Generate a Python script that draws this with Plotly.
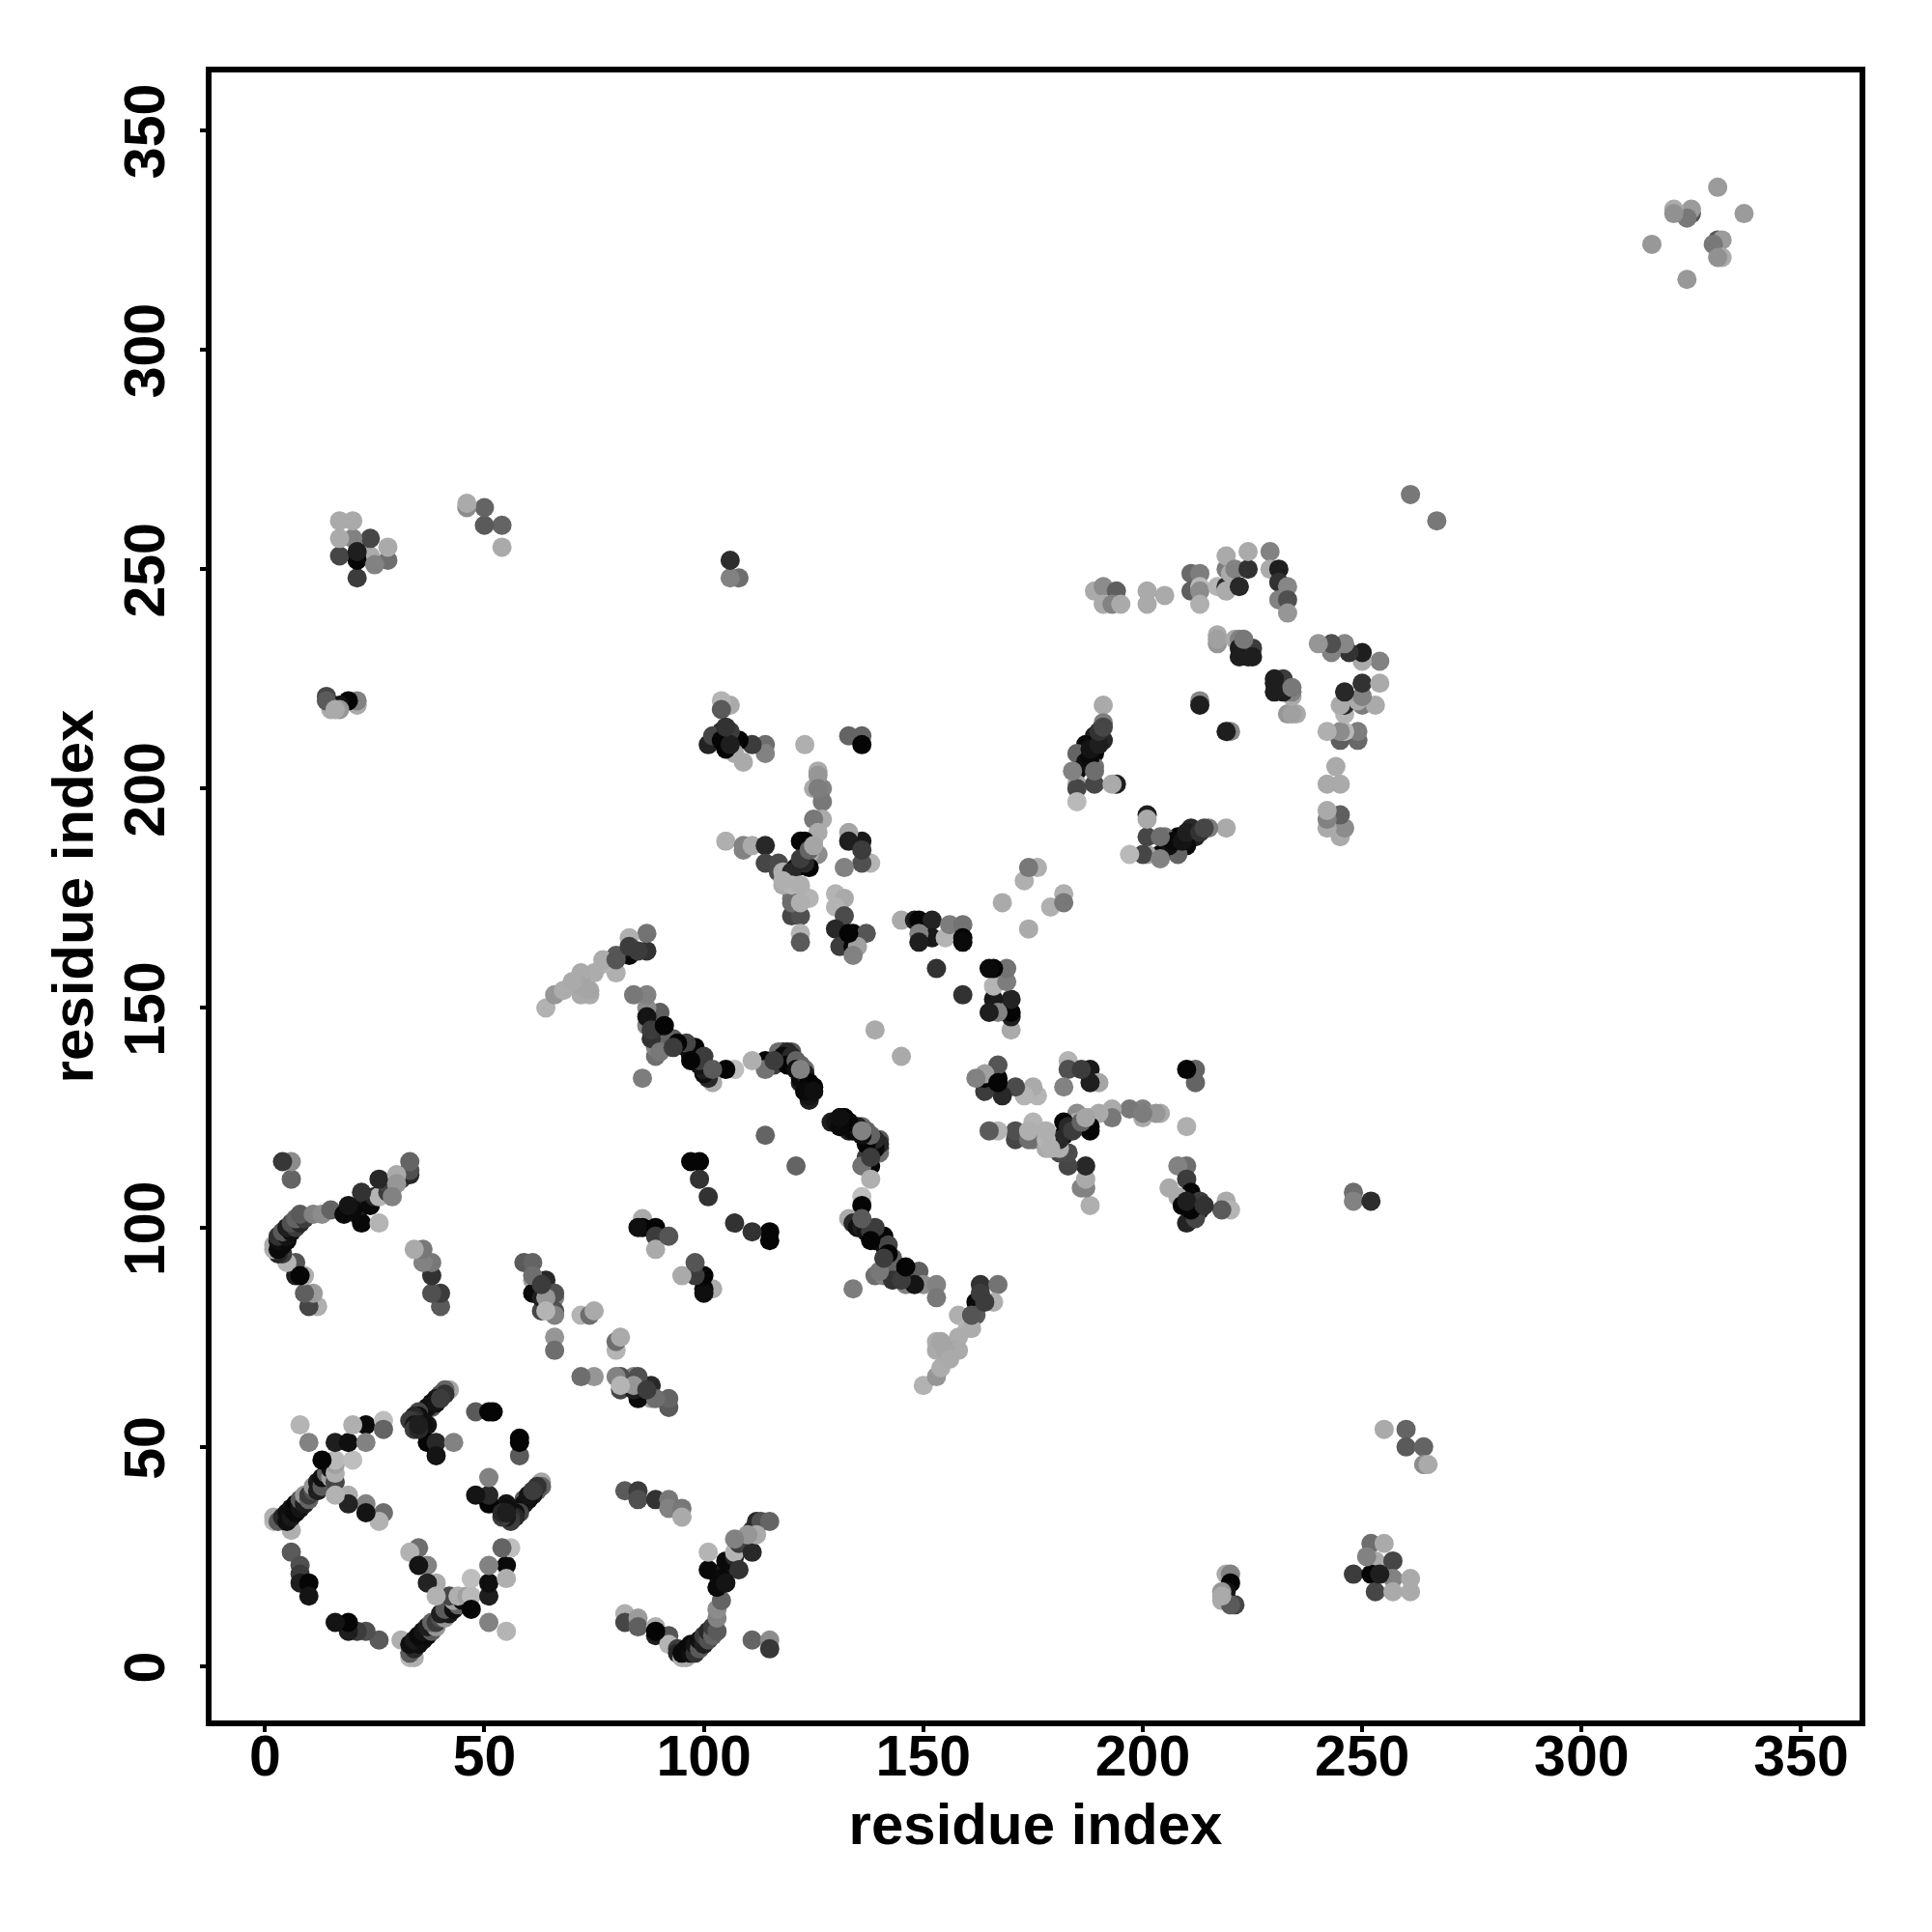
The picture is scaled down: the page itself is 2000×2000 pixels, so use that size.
import plotly.graph_objects as go

residue_i = [
 31,33,34,33,34,33,35,34,36,35,
 37,36,38,37,39,38,39,40,41,40,
 42,41,43,44,43,45,42,44,46,47,
 47,47,51,51,55,56,54,55,51,51,
 55,35,33,37,35,39,37,39,26,23,
 21,19,19,16,63,63,62,61,60,59,
 59,58,58,57,57,56,56,55,55,55,
 62,60,61,51,51,48,51,58,58,58,
 54,54,55,82,82,85,85,89,89,92,
 92,94,94,95,96,95,96,97,97,98,
 98,99,99,100,100,101,101,102,102,103,
 103,103,104,103,103,101,101,105,105,107,
 107,108,109,110,111,111,112,112,113,115,
 108,104,105,111,115,115,112,110,89,107,
 82,85,85,89,92,92,95,95,92,92,
 88,88,84,85,85,81,81,75,72,80,
 80,80,81,84,89,85,84,81,87,102,
 100,100,100,98,95,98,115,115,111,107,
 134,136,136,133,134,135,136,137,138,139,
 139,140,141,141,142,143,139,141,143,144,
 146,149,150,153,153,146,148,142,143,145,
 163,167,166,162,162,158,160,158,153,150,
 153,154,153,157,158,161,161,164,163,155,
 154,156,146,140,141,139,136,138,129,131,
 133,131,132,133,135,136,137,138,140,139,
 138,140,137,138,136,138,140,140,139,139,
 137,138,137,134,135,133,132,130,131,136,
 138,131,136,188,187,186,187,187,183,183,
 181,181,177,175,175,171,171,167,165,204,
 200,200,197,193,193,190,188,188,185,185,
 182,182,178,210,203,200,188,181,174,174,
 178,178,179,183,184,186,187,176,175,173,
 171,168,167,167,164,164,164,162,167,183,
 183,182,188,190,188,186,212,212,210,210,
 208,210,206,211,213,213,210,212,219,220,
 218,208,209,211,210,214,248,248,252,170,
 170,170,170,166,167,165,166,169,169,166,
 165,159,145,121,174,179,182,182,219,215,
 211,212,210,208,208,204,205,201,200,197,
 201,201,201,206,207,209,210,213,214,204,
 204,245,246,245,242,242,242,245,242,244,
 249,249,245,246,245,242,246,246,245,250,
 253,249,250,246,250,254,254,250,250,247,
 243,246,243,240,235,233,234,234,234,232,
 232,230,232,230,230,234,220,219,337,331,332,
 330,332,331,324,267,221,219,220,220,219,
 218,218,220,218,248,252,255,253,257,252,
 257,261,253,257,261,254,251,255,260,260,
 264,264,265,
]
residue_j = [
 6,2,2,3,4,5,5,6,6,7,
 7,8,8,9,9,10,10,11,11,12,
 12,13,13,14,15,15,16,16,16,16,
 13,20,16,19,23,27,27,20,23,10,
 8,27,26,23,23,19,19,16,6,8,
 8,8,10,10,42,41,40,39,38,38,
 37,36,35,35,34,34,33,34,37,36,
 41,39,40,37,39,39,43,48,51,52,
 34,35,35,12,10,11,9,9,7,7,
 5,4,3,2,2,3,4,3,5,3,
 5,4,6,5,7,6,8,7,9,8,
 11,13,15,18,21,22,26,22,24,25,
 26,28,29,28,26,31,32,33,33,33,
 22,20,19,6,6,4,30,30,8,29,
 40,40,38,38,38,36,36,34,59,61,
 64,61,66,61,64,63,66,66,66,66,
 72,74,75,63,61,66,64,64,63,86,
 86,85,89,89,89,92,97,99,99,101,
 86,107,105,102,101,100,100,99,99,98,
 97,97,96,98,96,93,89,89,90,91,
 90,90,87,87,84,87,87,94,88,88,
 87,87,83,83,80,80,77,75,74,64,
 66,68,72,72,72,77,80,83,85,72,
 74,70,91,90,93,100,102,97,124,125,
 122,123,125,124,122,123,122,121,120,118,
 119,118,116,114,114,111,117,119,118,120,
 119,121,122,122,123,124,125,124,123,121,
 116,125,122,105,109,109,111,114,114,117,
 117,118,122,124,120,120,122,122,122,126,
 127,125,127,127,125,126,125,123,126,124,
 121,124,118,123,126,126,122,120,120,122,
 120,122,118,123,122,124,125,130,132,130,
 132,130,134,137,131,134,135,134,133,138,
 136,132,136,133,133,136,136,133,136,114,
 114,111,109,108,106,104,101,102,106,104,
 104,107,105,104,106,105,108,106,106,145,
 148,149,152,152,149,149,155,156,159,159,
 159,153,139,114,168,173,176,174,191,191,
 191,189,187,185,189,185,189,185,185,185,
 189,194,193,187,188,188,190,190,191,184,
 189,189,191,194,191,193,195,201,201,205,
 211,213,211,213,213,213,217,219,219,219,
 219,220,221,222,224,224,229,229,231,231,
 231,233,233,233,217,217,217,221,222,222,
 224,224,225,222,225,223,213,213,331,325,325,
 324,321,321,316,261,14,21,21,19,17,
 15,17,14,16,21,28,28,24,24,21,
 20,20,17,17,17,21,25,54,54,50,
 50,46,46,
]
grey_level = [
 175,185,175,90,40,15,15,25,15,10,
 10,20,90,30,150,100,60,80,150,30,
 25,90,15,100,160,15,70,175,160,185,
 5,190,30,15,10,190,100,175,130,130,
 180,110,178,130,20,172,35,178,90,80,
 60,30,5,20,165,100,90,25,15,90,
 20,15,70,15,40,50,60,25,20,15,
 50,20,60,5,40,20,130,90,5,5,
 60,40,30,175,70,155,95,175,30,85,
 180,60,40,175,170,10,10,15,10,50,
 20,90,15,30,60,80,40,100,60,90,
 130,140,100,10,15,8,180,30,10,40,
 180,60,20,70,40,60,30,40,80,100,
 50,10,20,100,140,55,170,150,5,130,
 90,60,80,50,120,130,120,170,90,100,
 40,160,130,10,10,70,80,150,110,130,
 180,110,170,30,110,80,150,180,60,170,
 5,15,5,60,170,85,5,5,50,50,
 125,190,5,170,40,15,30,20,60,70,
 15,50,15,5,70,95,110,130,70,100,
 5,95,140,130,120,130,20,5,50,60,
 50,115,175,10,90,175,180,172,172,178,
 150,172,170,165,170,172,85,60,60,165,
 165,170,5,120,60,60,90,5,30,5,
 30,15,20,60,160,110,100,120,90,30,
 5,50,60,5,115,175,110,40,10,40,
 5,100,100,10,30,5,5,20,10,15,
 60,15,130,175,130,130,170,40,70,75,
 75,175,180,180,120,70,80,180,90,170,
 130,170,120,170,120,170,170,5,140,170,
 5,5,170,175,150,125,5,40,110,175,
 180,175,175,40,60,100,165,180,170,180,
 75,40,5,85,60,5,160,130,5,180,
 80,130,25,165,30,60,100,100,5,110,
 130,60,170,5,60,40,35,70,170,180,
 90,170,5,5,30,50,110,130,45,170,
 30,5,35,25,130,30,180,125,115,5,
 10,50,170,100,170,175,175,120,170,125,
 40,30,10,100,5,10,120,165,70,185,
 70,30,170,15,10,20,30,50,70,130,
 110,170,140,95,170,130,170,170,170,170,
 105,125,95,185,140,175,180,40,170,125,
 170,170,130,40,50,170,130,170,30,50,
 130,135,80,150,170,150,160,170,130,30,
 40,30,60,30,30,120,135,30,155,85,155,
 120,172,145,152,120,70,170,130,5,20,
 170,150,90,170,60,110,170,170,70,5,
 130,170,70,170,170,30,130,170,100,90,
 100,140,170,
]
assert len(residue_i) == len(residue_j) == len(grey_level)

tick_values = [0, 50, 100, 150, 200, 250, 300, 350]
axis_label = "residue index"

colors = [f"rgb({g},{g},{g})" for g in grey_level]
fig = go.Figure(go.Scatter(
    x=residue_i + residue_j,
    y=residue_j + residue_i,
    mode="markers",
    marker=dict(size=20, color=colors + colors, line=dict(width=0)),
    hoverinfo="skip",
))
font = "Liberation Sans"
common = dict(
    tickvals=tick_values,
    ticks="outside", ticklen=6, tickwidth=3.5, tickcolor="black",
    showline=True, linecolor="black", linewidth=5.5, mirror=True,
    showgrid=False, zeroline=False,
    tickfont=dict(family=font, size=59, color="black", weight="bold"),
    automargin=False,
)
fig.update_layout(
    width=2000, height=2000,
    margin=dict(l=211, r=83, t=67, b=227, pad=0, autoexpand=False),
    paper_bgcolor="white", plot_bgcolor="white",
    showlegend=False,
    xaxis=dict(range=[-12.17, 363.32], ticklabelstandoff=-26,
               title=dict(text=axis_label, standoff=19,
               font=dict(family=font, size=60, color="black", weight="bold")), **common),
    yaxis=dict(range=[-12.33, 363.16], tickangle=-90, ticklabelstandoff=14, ticklabelshift=10,
               title=dict(text=axis_label, standoff=3,
               font=dict(family=font, size=60, color="black", weight="bold")), **common),
)
fig.write_html("out.html")
